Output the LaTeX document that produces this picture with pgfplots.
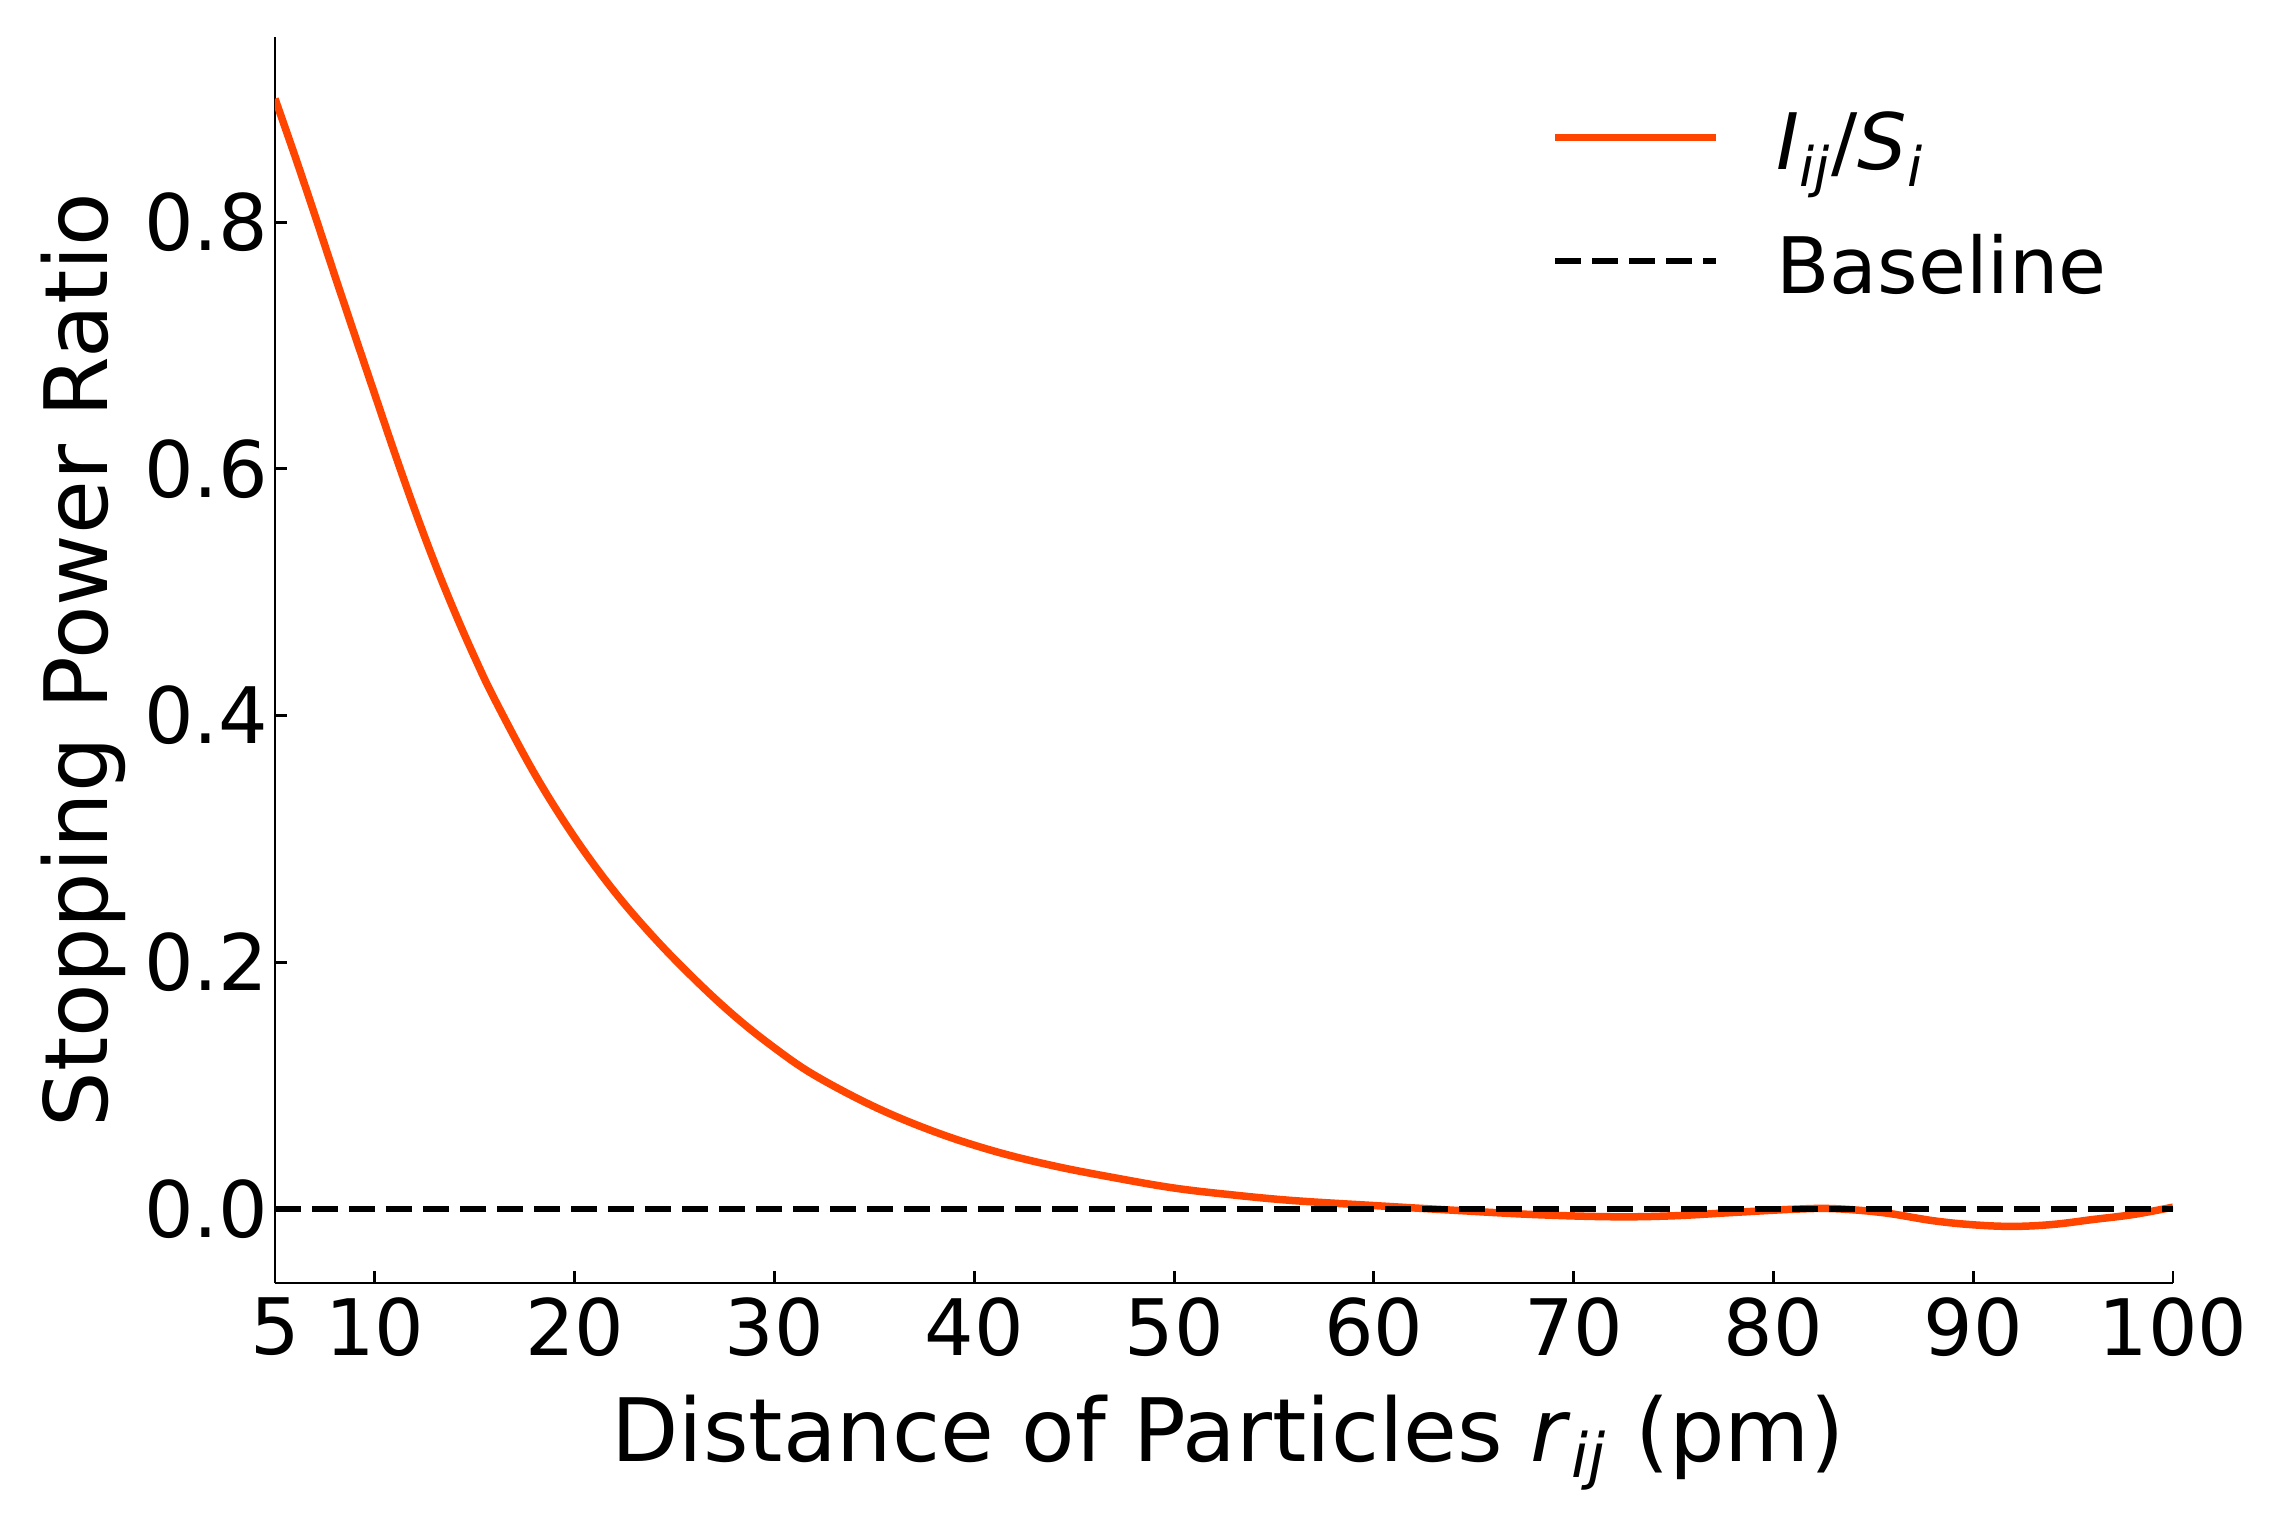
\documentclass[border=0pt]{standalone}
\usepackage{fontspec}
\setmainfont{DejaVu Sans}
\usepackage{pgfplots}
\pgfplotsset{compat=1.18}
\definecolor{curve}{HTML}{FF4500}

\begin{document}
\begin{tikzpicture}
\begin{axis}[
    name=main,
    at={(0,0)}, anchor=south west,
    scale only axis,
    width=455.52pt, height=299.04pt,
    xmin=5, xmax=100, ymin=-0.06, ymax=0.95,
    axis lines=left,
    axis line style={-, line width=0.7pt},
    tick align=inside,
    major tick length=2.8pt,
    tick style={line width=0.7pt, black},
    xtick={5,10,20,30,40,50,60,70,80,90,100},
    ytick={0,0.2,0.4,0.6,0.8},
    /pgf/number format/assume math mode=true,
    yticklabel style={/pgf/number format/fixed, /pgf/number format/fixed zerofill,
        /pgf/number format/precision=1, xshift=1.9pt},
    ticklabel style={font=\fontsize{18.7}{22}\selectfont},
    xlabel={Distance of Particles \textit{r}\textsubscript{\textit{ij}} (pm)},
    ylabel={Stopping Power Ratio},
    label style={font=\fontsize{21}{25}\selectfont},
    xlabel style={at={(axis description cs:0.502,-0.143)}, anchor=base},
    ylabel style={at={(axis description cs:-0.088,0.5)}, anchor=base},
    legend cell align=left,
    legend image code/.code={\draw[#1] (0pt,3.2pt) -- (38.6pt,3.2pt);},
    legend style={draw=none, fill=none, inner sep=0pt,
        at={(axis description cs:0.672,0.941)}, anchor=north west,
        font=\fontsize{18.7}{22}\selectfont,
        row sep=10.6pt, column sep=13.6pt,
        nodes={inner sep=0pt, text height=14pt, text depth=5pt}},
]

\addplot[curve, line width=1.8pt, smooth, tension=0.6] coordinates {
    (5,0.900) (6,0.8535) (7,0.8054) (8,0.7563) (9,0.7080) (10,0.6601)
    (11,0.6124) (12,0.5665) (13,0.5234) (14,0.4837) (15,0.4469) (16,0.4130)
    (18,0.3526) (20,0.3011) (22,0.2571) (24,0.2195) (26,0.1863) (28,0.1564)
    (30,0.1306) (32,0.1085) (35,0.0829) (38,0.0627) (41,0.0469) (44,0.0349)
    (47,0.0254) (50,0.0170) (53,0.0113) (56,0.0068) (60,0.0028) (64,-0.0010)
    (68,-0.0045) (72,-0.0063) (75,-0.0055) (78,-0.0028) (81,-0.0002) (83,0.0003)
    (85.5,-0.0030) (88,-0.0095) (90,-0.0128) (92,-0.0141) (94,-0.0125)
    (96,-0.0085) (98,-0.0045) (100,0.0015)
};
\addlegendentry{\textit{I}\textsubscript{\textit{ij}}/\textit{S}\textsubscript{\textit{i}}}

\addplot[black, line width=1.5pt, dash pattern=on 6.24pt off 2.64pt] coordinates {(5,0) (100,0)};
\addlegendentry{Baseline}
\end{axis}
\pgfresetboundingbox
\path[use as bounding box] ([xshift=-66pt,yshift=-57.84pt]main.south west)
    rectangle ([xshift=27.12pt,yshift=8.88pt]main.north east);
\end{tikzpicture}
\end{document}
